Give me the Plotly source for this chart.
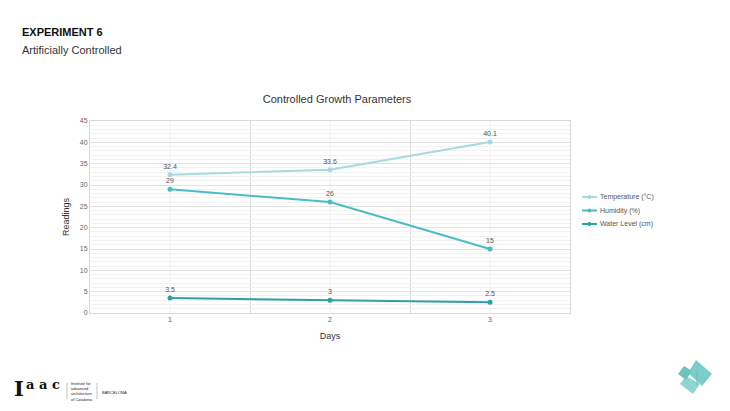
import plotly.graph_objects as go

days = [1, 2, 3]
day_labels = ["1", "2", "3"]
temperature = [32.4, 33.6, 40.1]
humidity = [29, 26, 15]
water_level = [3.5, 3, 2.5]
series_names = ["Temperature (°C)", "Humidity (%)", "Water Level (cm)"]
series_colors = ["#a6dade", "#48bdc5", "#2f9fa4"]

W, H = 730, 411
L, R, T, B = 90, 570, 121, 313

def px(x):
    return (x - L) / (R - L)

def py(y):
    return (B - y) / (B - T)

fig = go.Figure()
for name, vals, col in zip(series_names, [temperature, humidity, water_level], series_colors):
    fig.add_trace(go.Scatter(
        x=days, y=vals, name=name, mode="lines+markers+text",
        line=dict(color=col, width=2), marker=dict(color=col, size=5),
        text=[f"{v:g}" for v in vals], textposition="top center",
        textfont=dict(size=7, color="#555555", family="Liberation Sans"),
        cliponaxis=False, showlegend=False,
    ))

fig.update_layout(
    width=W, height=H,
    margin=dict(l=L, r=W - R, t=T, b=H - B),
    paper_bgcolor="white", plot_bgcolor="white",
    font=dict(family="Liberation Sans", color="#444444"),
    title=dict(text="Controlled Growth Parameters", x=px(337), xref="paper", xanchor="center",
               y=1 - 99 / H, yanchor="middle", font=dict(size=11, color="#333333")),
    showlegend=False,
    xaxis=dict(range=[0.5, 3.5], tickvals=days, ticktext=day_labels,
               showgrid=False, zeroline=False,
               showline=True, linecolor="#d9d9d9", mirror=True,
               tickfont=dict(size=7, color="#666666"), ticks="",
               title=dict(text="Days", font=dict(size=9, color="#333333"), standoff=10),
               minor=dict(tickvals=[1.5, 2.5], showgrid=True, gridcolor="#d9d9d9", gridwidth=1)),
    yaxis=dict(range=[0, 45], tickvals=list(range(0, 46, 5)), showgrid=True,
               gridcolor="#e3e3e3", zeroline=False,
               showline=True, linecolor="#d9d9d9", mirror=True,
               tickfont=dict(size=7, color="#666666"), ticks="",
               title=dict(text="Readings", font=dict(size=9, color="#333333"), standoff=8),
               minor=dict(dtick=1, showgrid=True, gridcolor="#f2f2f2", gridwidth=1)),
)

# faint vertical gridlines at category points
for d in days:
    fig.add_shape(type="line", xref="x", yref="paper", x0=d, x1=d, y0=0, y1=1,
                  line=dict(color="#f0f0f0", width=1), layer="below")

# manual legend
for i, (name, col) in enumerate(zip(series_names, series_colors)):
    yy = 197 + i * 13.5
    fig.add_shape(type="line", xref="paper", yref="paper", x0=px(582), x1=px(597),
                  y0=py(yy), y1=py(yy), line=dict(color=col, width=2))
    fig.add_shape(type="circle", xref="paper", yref="paper", x0=px(587.5), x1=px(591.5),
                  y0=py(yy + 2), y1=py(yy - 2), fillcolor=col, line=dict(width=0))
    fig.add_annotation(text=name, xref="paper", yref="paper", x=px(598), y=py(yy),
                       xanchor="left", yanchor="middle", showarrow=False,
                       font=dict(size=7, color="#555555", family="Liberation Sans"))

# header text
fig.add_annotation(text="<b>EXPERIMENT 6</b>", xref="paper", yref="paper",
                   x=px(20), y=py(32), xanchor="left", yanchor="middle", showarrow=False,
                   font=dict(size=11, color="#111111", family="Liberation Sans"))
fig.add_annotation(text="Artificially Controlled", xref="paper", yref="paper",
                   x=px(20), y=py(50), xanchor="left", yanchor="middle", showarrow=False,
                   font=dict(size=11, color="#333333", family="Liberation Sans"))

# IAAC logo
fig.add_annotation(text="<b>I</b>", xref="paper", yref="paper",
                   x=px(12), y=py(388), xanchor="left", yanchor="middle", showarrow=False,
                   font=dict(size=21, color="#111111", family="DejaVu Serif"))
fig.add_annotation(text="<b>a a c</b>", xref="paper", yref="paper",
                   x=px(24), y=py(384), xanchor="left", yanchor="middle", showarrow=False,
                   font=dict(size=13, color="#111111", family="DejaVu Serif"))
fig.add_annotation(text="Institute for<br>advanced<br>architecture<br>of Catalonia", xref="paper", yref="paper",
                   x=px(69), y=py(391), xanchor="left", yanchor="middle", showarrow=False, align="left",
                   font=dict(size=4, color="#222222", family="Liberation Sans"))
fig.add_shape(type="line", xref="paper", yref="paper", x0=px(97), x1=px(97), y0=py(383), y1=py(399),
              line=dict(color="#999999", width=0.6))
fig.add_annotation(text="BARCELONA", xref="paper", yref="paper",
                   x=px(100), y=py(392), xanchor="left", yanchor="middle", showarrow=False,
                   font=dict(size=4, color="#222222", family="Liberation Sans"))
fig.add_shape(type="line", xref="paper", yref="paper", x0=px(67), x1=px(67), y0=py(383), y1=py(399),
              line=dict(color="#999999", width=0.6))

# teal logo bottom right
def poly(pts, color):
    path = "M " + " L ".join(f"{px(a)},{py(b)}" for a, b in pts) + " Z"
    fig.add_shape(type="path", xref="paper", yref="paper", path=path,
                  fillcolor=color, line=dict(width=0))

poly([(696, 360), (712, 374), (702, 386), (688, 373)], "#7ccdc8")
poly([(686, 376), (700, 384), (693, 394), (680, 384)], "#8fd5d0")
poly([(684, 366), (692, 371), (686, 380), (678, 374)], "#6cc4c0")
fig.add_shape(type="line", xref="paper", yref="paper", x0=px(697), x1=px(697), y0=py(371), y1=py(385),
              line=dict(color="#5bb7b3", width=0.8))

fig.write_html("out.html", config={"displayModeBar": False},
               post_script="document.body.style.margin='0px';")
